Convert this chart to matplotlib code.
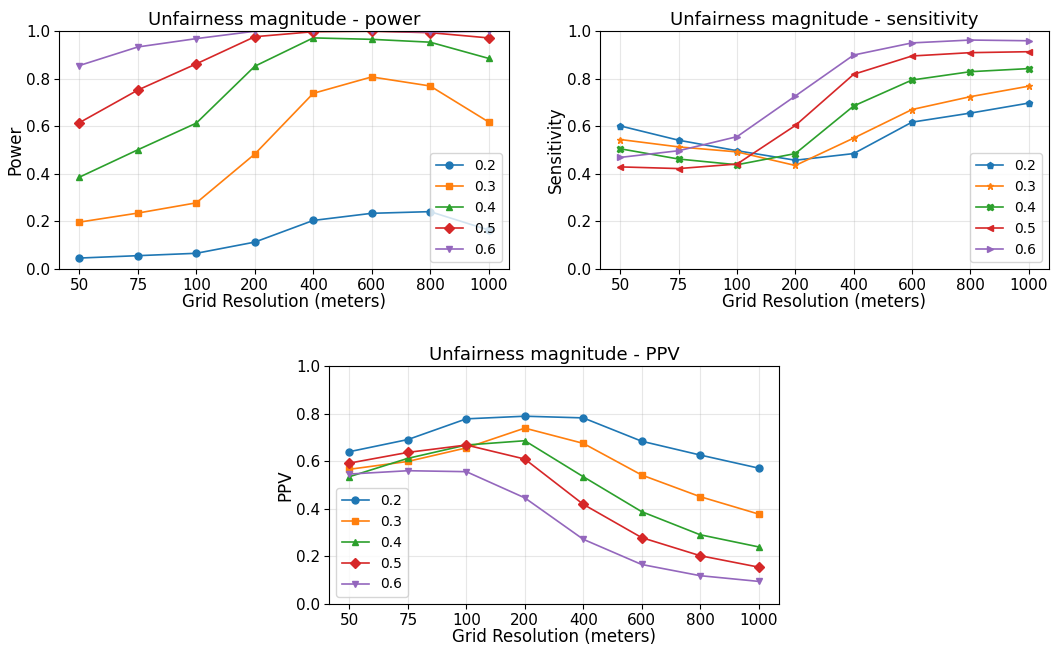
import matplotlib
matplotlib.use("Agg")
import matplotlib.pyplot as plt

resolutions = ["50", "75", "100", "200", "400", "600", "800", "1000"]
magnitudes = ["0.2", "0.3", "0.4", "0.5", "0.6"]

power_02 = [0.046, 0.056, 0.066, 0.113, 0.204, 0.234, 0.241, 0.164]
power_03 = [0.197, 0.235, 0.278, 0.483, 0.738, 0.807, 0.769, 0.618]
power_04 = [0.386, 0.501, 0.613, 0.852, 0.971, 0.965, 0.953, 0.885]
power_05 = [0.615, 0.752, 0.862, 0.976, 0.997, 0.999, 0.993, 0.971]
power_06 = [0.855, 0.933, 0.968, 0.999, 1.000, 1.000, 0.996, 0.999]

sens_02 = [0.601, 0.541, 0.497, 0.457, 0.485, 0.617, 0.655, 0.697]
sens_03 = [0.544, 0.513, 0.492, 0.435, 0.550, 0.670, 0.724, 0.768]
sens_04 = [0.505, 0.462, 0.438, 0.485, 0.685, 0.794, 0.829, 0.842]
sens_05 = [0.429, 0.422, 0.441, 0.603, 0.818, 0.895, 0.909, 0.913]
sens_06 = [0.469, 0.497, 0.556, 0.727, 0.899, 0.950, 0.962, 0.959]

ppv_02 = [0.640, 0.691, 0.778, 0.789, 0.782, 0.684, 0.626, 0.571]
ppv_03 = [0.566, 0.599, 0.656, 0.739, 0.675, 0.542, 0.451, 0.378]
ppv_04 = [0.535, 0.612, 0.668, 0.686, 0.535, 0.388, 0.291, 0.240]
ppv_05 = [0.592, 0.637, 0.668, 0.609, 0.419, 0.279, 0.203, 0.155]
ppv_06 = [0.546, 0.560, 0.556, 0.446, 0.272, 0.166, 0.119, 0.095]

power = [power_02, power_03, power_04, power_05, power_06]
sens = [sens_02, sens_03, sens_04, sens_05, sens_06]
ppv = [ppv_02, ppv_03, ppv_04, ppv_05, ppv_06]

colors = ["#1f77b4", "#ff7f0e", "#2ca02c", "#d62728", "#9467bd"]

W, H = 1053, 645
fig = plt.figure(figsize=(W / 100, H / 100), dpi=100)

def box(l, t, r, b):
    return [l / W, 1 - b / H, (r - l) / W, (b - t) / H]

FS = 11

def panel(rect, series, markers, title, ylabel, legloc):
    ax = fig.add_axes(rect)
    x = list(range(len(resolutions)))
    for s, m, c, lab in zip(series, markers, colors, magnitudes):
        ax.plot(x, s, marker=m, color=c, label=lab, markersize=5, linewidth=1.2)
    ax.set_ylim(0, 1.0)
    ax.set_xticks(x)
    ax.set_xticklabels(resolutions)
    ax.tick_params(labelsize=FS, pad=3)
    ax.grid(True, alpha=0.3)
    ax.set_title(title, fontsize=FS + 2, pad=4)
    ax.set_xlabel("Grid Resolution (meters)", fontsize=FS + 1, labelpad=0)
    ax.set_ylabel(ylabel, fontsize=FS + 1, labelpad=1)
    ax.legend(loc=legloc, fontsize=10)
    return ax

panel(box(59, 31, 509, 269), power, ["o", "s", "^", "D", "v"],
      "Unfairness magnitude - power", "Power", "lower right")
panel(box(600, 31, 1049, 269), sens, ["p", "*", "X", "<", ">"],
      "Unfairness magnitude - sensitivity", "Sensitivity", "lower right")
panel(box(329, 366, 779, 604), ppv, ["o", "s", "^", "D", "v"],
      "Unfairness magnitude - PPV", "PPV", "lower left")

fig.savefig("out.png", dpi=100)
